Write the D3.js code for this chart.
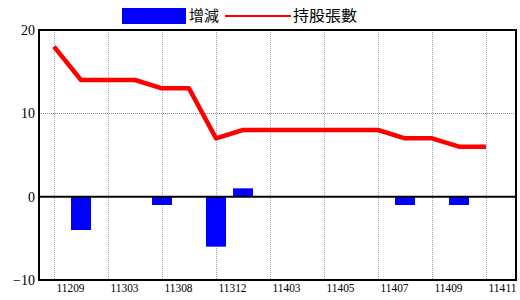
<!DOCTYPE html>
<html>
<head>
  <meta charset="utf-8">
  <script src="https://d3js.org/d3.v7.min.js"></script>
  <style>
    body { margin: 0; background: #ffffff; }
    .tick text { font-family: 'Liberation Serif', serif; font-size: 14px; fill: #000; }
    .x-axis .tick text { font-size: 12.5px; }
    .legend text { font-family: 'Noto Sans CJK TC', sans-serif; font-size: 15px; fill: #000; }
  </style>
</head>
<body>
  <div id="chart"></div>
  <script>
    // data
    const months = ["11209", "11210", "11303", "11306", "11308", "11310", "11312", "11401", "11403",
                    "11404", "11405", "11406", "11407", "11408", "11409", "11410", "11411"];
    const change = [0, -4, 0, 0, -1, 0, -6, 1, 0, 0, 0, 0, 0, -1, 0, -1, 0];
    const holders = [18, 14, 14, 14, 13, 13, 7, 8, 8, 8, 8, 8, 8, 7, 7, 6, 6];
    const yTicks = [-10, 0, 10, 20];
    const shownMonths = months.filter((d, i) => i % 2 === 0);

    const W = 520, H = 300;
    const frame = { left: 39, right: 516, top: 30, bottom: 280 };

    const svg = d3.select("#chart").append("svg")
      .attr("width", W).attr("height", H);

    const x = d3.scalePoint().domain(months).range([54, 486]);
    const y = d3.scaleLinear().domain([-10, 20]).range([frame.bottom, frame.top]);

    // vertical grid
    svg.append("g").selectAll("line")
      .data(shownMonths).join("line")
      .attr("x1", d => x(d) + 0.5).attr("x2", d => x(d) + 0.5)
      .attr("y1", frame.top).attr("y2", frame.bottom)
      .attr("stroke", "#8fb0c2").attr("stroke-width", 1)
      .attr("stroke-dasharray", "1,1");

    // horizontal grid
    svg.append("g").selectAll("line")
      .data(yTicks.filter(t => t !== 0 && t !== -10 && t !== 20)).join("line")
      .attr("x1", frame.left).attr("x2", frame.right)
      .attr("y1", d => Math.round(y(d)) + 0.5).attr("y2", d => Math.round(y(d)) + 0.5)
      .attr("stroke", "#888888").attr("stroke-width", 1)
      .attr("stroke-dasharray", "1,1");

    // bars
    svg.append("g").selectAll("rect")
      .data(months).join("rect")
      .attr("x", d => x(d) - 10)
      .attr("width", 20)
      .attr("y", (d, i) => y(Math.max(0, change[i])))
      .attr("height", (d, i) => Math.abs(y(change[i]) - y(0)))
      .attr("fill", "#0000ff");

    // zero line
    svg.append("line")
      .attr("x1", frame.left).attr("x2", frame.right)
      .attr("y1", y(0)).attr("y2", y(0))
      .attr("stroke", "#000").attr("stroke-width", 2);

    // holders line
    const line = d3.line()
      .x((d, i) => x(months[i]))
      .y(d => y(d));
    svg.append("path")
      .datum(holders)
      .attr("d", line)
      .attr("fill", "none")
      .attr("stroke", "#ff0000")
      .attr("stroke-width", 4.5)
      .attr("stroke-linejoin", "round");

    // frame
    svg.append("rect")
      .attr("x", frame.left).attr("y", frame.top)
      .attr("width", frame.right - frame.left).attr("height", frame.bottom - frame.top)
      .attr("fill", "none").attr("stroke", "#000").attr("stroke-width", 2);

    // axes
    const yAxis = svg.append("g")
      .attr("transform", `translate(${frame.left},0)`)
      .call(d3.axisLeft(y).tickValues(yTicks).tickSize(0).tickPadding(4));
    yAxis.select(".domain").remove();

    const xAxis = svg.append("g")
      .attr("class", "x-axis")
      .attr("transform", `translate(0,${frame.bottom})`)
      .call(d3.axisBottom(x).tickValues(shownMonths).tickSize(0).tickPadding(3));
    xAxis.select(".domain").remove();
    xAxis.selectAll(".tick text")
      .attr("text-anchor", "start")
      .attr("x", 2)
      .attr("textLength", 28)
      .attr("lengthAdjust", "spacingAndGlyphs");

    // legend
    const legend = svg.append("g").attr("class", "legend");
    legend.append("rect")
      .attr("x", 122).attr("y", 8).attr("width", 64).attr("height", 16)
      .attr("fill", "#0000ff");
    legend.append("text").attr("x", 189).attr("y", 21).text("增減");
    legend.append("line")
      .attr("x1", 225).attr("x2", 291).attr("y1", 16).attr("y2", 16)
      .attr("stroke", "#ff0000").attr("stroke-width", 2);
    legend.append("text").attr("x", 293).attr("y", 21)
      .attr("textLength", 64).attr("lengthAdjust", "spacingAndGlyphs")
      .text("持股張數");
  </script>
</body>
</html>
